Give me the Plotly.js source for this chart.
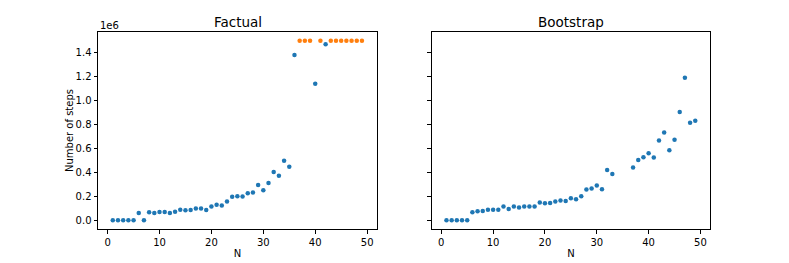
<!DOCTYPE html>
<html>
<head>
<meta charset="utf-8">
<script src="https://cdn.plot.ly/plotly-3.0.1.min.js"></script>
<style>html,body{margin:0;padding:0;background:#fff;}#chart{width:789px;height:263px;}</style>
</head>
<body>
<div id="chart"></div>
<script>
// Factual panel
const factualNBlue = [1,2,3,4,5,6,7,8,9,10,11,12,13,14,15,16,17,18,19,20,21,22,23,24,25,26,27,28,29,30,31,32,33,34,35,36,40,42];
const factualStepsBlue = [0,0,0,0,0,61000,0,67000,61000,70000,70000,61000,72000,89000,84000,86000,98000,98000,86000,115000,131000,123000,157000,196000,201000,199000,227000,232000,294000,252000,311000,403000,372000,498000,448000,1381000,1140000,1471000];
const factualNOrange = [37,38,39,41,43,44,45,46,47,48,49];
const factualStepsOrange = [1500000,1500000,1500000,1500000,1500000,1500000,1500000,1500000,1500000,1500000,1500000];
// Bootstrap panel
const bootN = [1,2,3,4,5,6,7,8,9,10,11,12,13,14,15,16,17,18,19,20,21,22,23,24,25,26,27,28,29,30,31,32,33,37,38,39,40,41,42,43,44,45,46,47,48,49];
const bootSteps = [0,0,0,0,0,67000,76000,78000,89000,89000,89000,115000,95000,115000,106000,115000,115000,115000,148000,143000,145000,157000,165000,162000,185000,176000,201000,257000,266000,291000,260000,420000,387000,440000,504000,526000,560000,524000,666000,734000,585000,672000,904000,1190000,815000,832000];
// Axis ticks
const xTicks = [0,10,20,30,40,50];
const yTickVals = [0,200000,400000,600000,800000,1000000,1200000,1400000];
const yTickText = ["0.0","0.2","0.4","0.6","0.8","1.0","1.2","1.4"];

const BLUE = '#1f77b4', ORANGE = '#ff7f0e';
const font = {family: 'DejaVu Sans, sans-serif', size: 10, color: '#000'};
const titleFont = {family: 'DejaVu Sans, sans-serif', size: 13.5, color: '#000'};
const mk = c => ({color: c, size: 4.5, line: {width: 0}});

const traces = [
  {x: factualNBlue, y: factualStepsBlue, mode: 'markers', type: 'scatter', marker: mk(BLUE), xaxis: 'x', yaxis: 'y'},
  {x: factualNOrange, y: factualStepsOrange, mode: 'markers', type: 'scatter', marker: mk(ORANGE), xaxis: 'x', yaxis: 'y'},
  {x: bootN, y: bootSteps, mode: 'markers', type: 'scatter', marker: mk(BLUE), xaxis: 'x2', yaxis: 'y2'}
];

const H = 263, W = 789;
const yDom = [(H-229.3)/H, (H-31.7)/H];
const axCommon = {
  showline: true, mirror: true, linecolor: '#000', linewidth: 1,
  ticks: 'outside', ticklen: 3.5, tickwidth: 1, tickcolor: '#000',
  showgrid: false, zeroline: false, tickfont: font, fixedrange: true
};
const xRange = [-1.85, 51.9];
const yRange = [-75000, 1575000];

const layout = {
  width: W, height: H,
  margin: {l: 0, r: 0, t: 0, b: 0},
  paper_bgcolor: '#fff', plot_bgcolor: '#fff',
  showlegend: false,
  font: font,
  xaxis: Object.assign({}, axCommon, {domain: [98/W, 377/W], range: xRange, tickvals: xTicks, anchor: 'y',
    title: {text: 'N', font: font, standoff: 3}}),
  yaxis: Object.assign({}, axCommon, {domain: yDom, range: yRange, tickvals: yTickVals, ticktext: yTickText, anchor: 'x',
    title: {text: 'Number of steps', font: font, standoff: 0}}),
  xaxis2: Object.assign({}, axCommon, {domain: [431.7/W, 710.3/W], range: xRange, tickvals: xTicks, anchor: 'y2',
    title: {text: 'N', font: font, standoff: 3}}),
  yaxis2: Object.assign({}, axCommon, {domain: yDom, range: yRange, tickvals: yTickVals, showticklabels: false, anchor: 'x2'}),
  annotations: [
    {text: 'Factual', xref: 'paper', yref: 'paper', x: (98+377)/2/W, y: yDom[1], yshift: 0, xanchor: 'center', yanchor: 'bottom', showarrow: false,
     font: titleFont},
    {text: 'Bootstrap', xref: 'paper', yref: 'paper', x: (431.7+710.3)/2/W, y: yDom[1], yshift: 0, xanchor: 'center', yanchor: 'bottom', showarrow: false,
     font: titleFont},
    {text: '1e6', xref: 'paper', yref: 'paper', x: 98/W, y: yDom[1], yshift: -1, xanchor: 'left', yanchor: 'bottom', showarrow: false,
     font: font}
  ]
};

Plotly.newPlot('chart', traces, layout, {displayModeBar: false, staticPlot: true});
</script>
</body>
</html>
